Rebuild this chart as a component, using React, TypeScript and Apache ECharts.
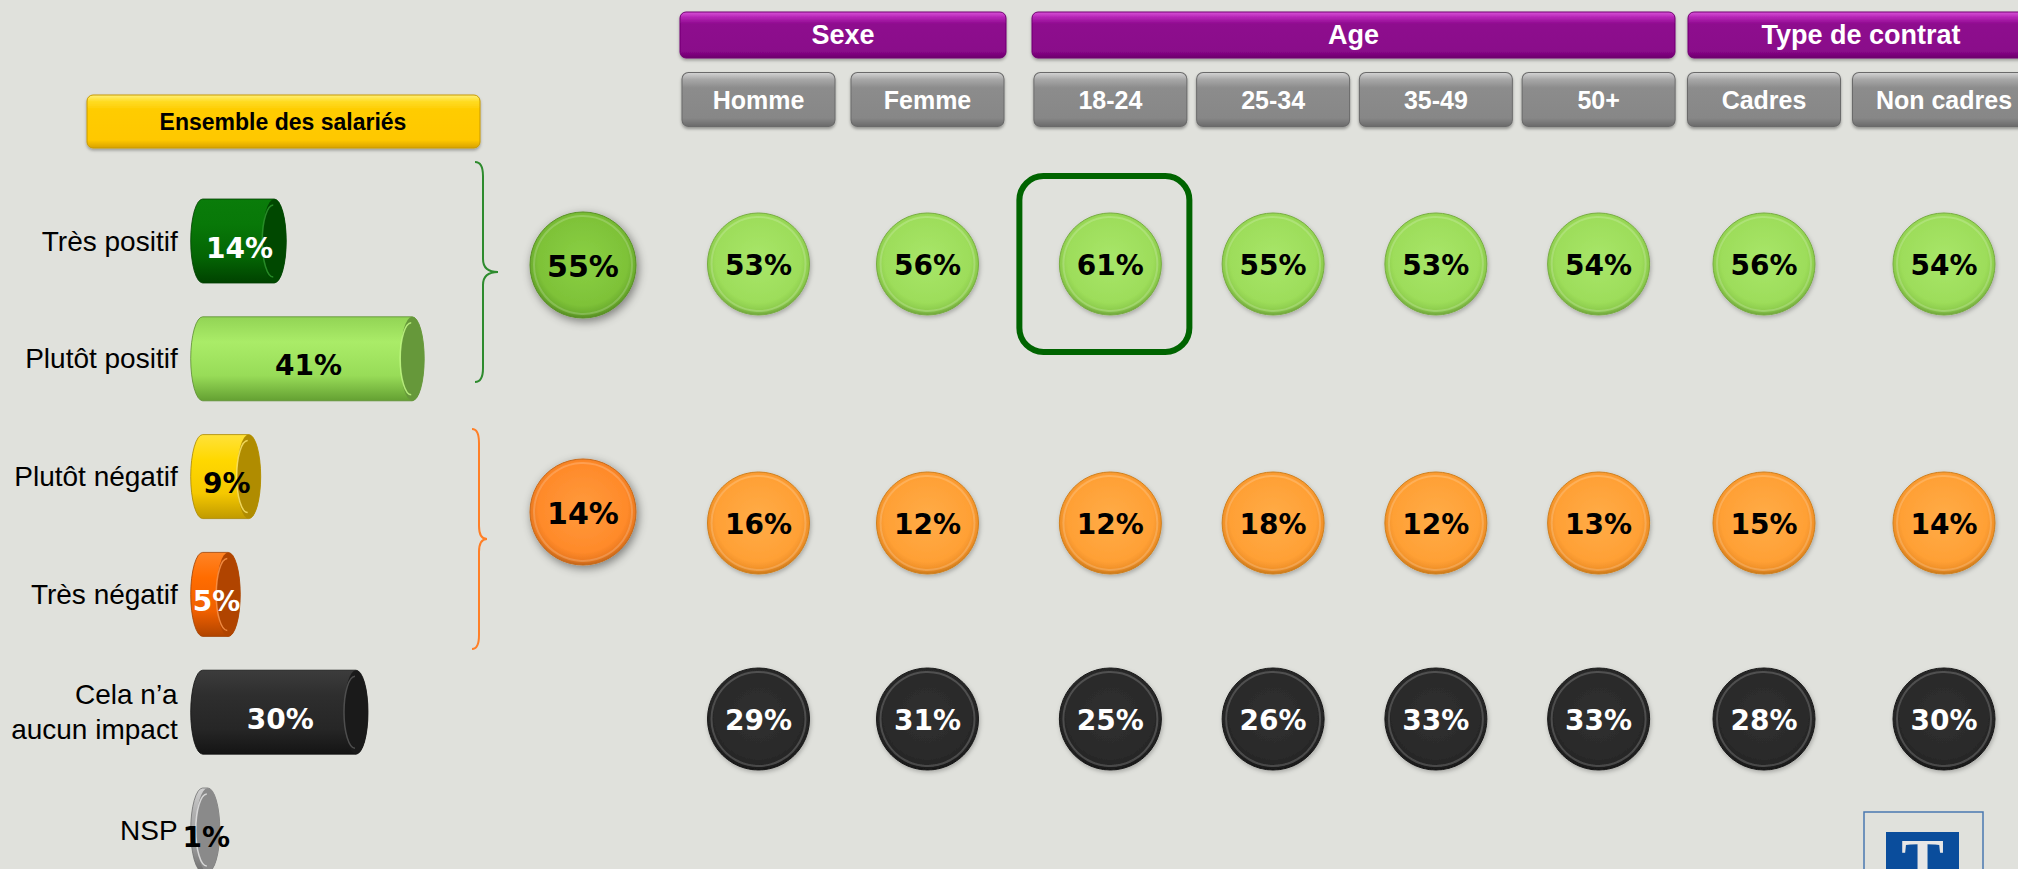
import React, { useEffect, useRef } from 'react';
import * as echarts from 'echarts';

// ---------------- data ----------------
const ENSEMBLE_LABELS = ['Très positif', 'Plutôt positif', 'Plutôt négatif', 'Très négatif', 'Cela n’a\naucun impact', 'NSP'];
const ENSEMBLE_VALUES = [14, 41, 9, 5, 30, 1];

const TOTAL_ROWS = ['Positif', 'Négatif'];
const TOTAL_VALUES = [55, 14];

const GROUPS = ['Sexe', 'Age', 'Type de contrat'];
const SEXE_COLS = ['Homme', 'Femme'];
const AGE_COLS = ['18-24', '25-34', '35-49', '50+'];
const CONTRAT_COLS = ['Cadres', 'Non cadres'];

const ROW_NAMES = ['Positif', 'Négatif', 'Aucun impact'];
const POSITIF = [53, 56, 61, 55, 53, 54, 56, 54];
const NEGATIF = [16, 12, 12, 18, 12, 13, 15, 14];
const AUCUN = [29, 31, 25, 26, 33, 33, 28, 30];
const HIGHLIGHT = { row: 0, col: 2 };

// ---------------- layout / styles ----------------
const FONT_SANS = '"Liberation Sans", Arial, sans-serif';
const FONT_NUM = '"DejaVu Sans", Verdana, sans-serif';
const BG = '#e0e1dc';

const GROUP_GRID = [
  { left: 674, width: 338, head: [680, 1006] },
  { left: 1029, width: 651, head: [1032, 1675] },
  { left: 1674, width: 360, head: [1688, 2034] },
];
const ROW_CY = [264, 523, 719];
const TOTAL_CY = [265, 512];
const ROW_H = 110;

const lin = (stops: [number, string][]) =>
  new echarts.graphic.LinearGradient(0, 0, 0, 1, stops.map(([offset, color]) => ({ offset, color })));
const rad = (stops: [number, string][], x = 0.5, y = 0.5, r = 0.5) =>
  new echarts.graphic.RadialGradient(x, y, r, stops.map(([offset, color]) => ({ offset, color })));

const CYL_STYLES = [
  { body: [[0, '#0a7c0a'], [0.3, '#087808'], [0.7, '#046404'], [1, '#004200']], cap: '#004800', rim: '#2f9a2f', edge: '#004000', text: '#ffffff' },
  { body: [[0, '#92d455'], [0.3, '#aaec68'], [0.7, '#98dc58'], [1, '#64a032']], cap: '#66983a', rim: '#c8ff8a', edge: '#5a8c30', text: '#000000' },
  { body: [[0, '#ffe23a'], [0.3, '#ffd800'], [0.7, '#f5c800'], [1, '#c09a00']], cap: '#b08c00', rim: '#ffe870', edge: '#a88600', text: '#000000' },
  { body: [[0, '#ff8426'], [0.3, '#ff6c00'], [0.7, '#f06000'], [1, '#b04400']], cap: '#b04400', rim: '#ff9a50', edge: '#a04000', text: '#ffffff' },
  { body: [[0, '#3c3c3c'], [0.3, '#2e2e2e'], [0.7, '#262626'], [1, '#141414']], cap: '#1a1a1a', rim: '#5a5a5a', edge: '#101010', text: '#ffffff' },
  { body: [[0, '#d0d0d0'], [0.3, '#b0b0b0'], [0.7, '#9a9a9a'], [1, '#707070']], cap: '#8a8a8a', rim: '#e8e8e8', edge: '#707070', text: '#000000' },
];

const CIRCLE_STYLES = [
  { stops: [[0, '#a8e66a'], [0.78, '#9ddd5a'], [0.92, '#8ccc4c'], [1, '#6ea33a']], edge: '#78ad42', text: '#000000' },
  { stops: [[0, '#ffac48'], [0.78, '#ffa035'], [0.92, '#f09028'], [1, '#c8781a']], edge: '#d0801e', text: '#000000' },
  { stops: [[0, '#303030'], [0.78, '#2a2a2a'], [0.92, '#242424'], [1, '#151515']], edge: '#1a1a1a', text: '#ffffff' },
];
const TOTAL_STYLES = [
  { stops: [[0, '#8ad044'], [0.78, '#7ec238'], [0.92, '#6cae2e'], [1, '#558a22']], edge: '#5a9226', text: '#000000' },
  { stops: [[0, '#ff9a3c'], [0.78, '#ff8a2a'], [0.92, '#ec7a20'], [1, '#c06418']], edge: '#c86a1a', text: '#000000' },
];

const BRACE_G = 'M0 0 C6 0 8 5 8 14 L8 97 C8 105 12 110 23 110 C12 110 8 115 8 123 L8 206 C8 215 6 220 0 220';
const BRACE_O = 'M0 0 C5 0 7 5 7 14 L7 97 C7 105 9 110 15 110 C9 110 7 115 7 123 L7 206 C7 215 5 220 0 220';

function textStyle(text: string, x: number, y: number, font: string, fill: string) {
  return { text, x, y, font, fill, align: 'center', verticalAlign: 'middle', textAlign: 'center', textVerticalAlign: 'middle' };
}

export default function App() {
  const ref = useRef<HTMLDivElement>(null);

  useEffect(() => {
    if (!ref.current) return;
    echarts.graphic.registerShape('braceG', echarts.graphic.extendPath(BRACE_G, {}));
    echarts.graphic.registerShape('braceO', echarts.graphic.extendPath(BRACE_O, {}));
    const chart = echarts.init(ref.current, null, { renderer: 'svg' });

    const grids: any[] = [];
    const xAxes: any[] = [];
    const yAxes: any[] = [];
    const series: any[] = [];

    // ---- left cylinders ----
    grids.push({ left: 202.7, top: 241, width: 511, height: 589, outerBoundsMode: 'none', containLabel: false });
    xAxes.push({ gridIndex: 0, type: 'value', min: 0, max: 100, show: false });
    yAxes.push({
      gridIndex: 0, type: 'category', inverse: true, boundaryGap: false, data: ENSEMBLE_LABELS,
      axisLine: { show: false }, axisTick: { show: false }, splitLine: { show: false },
      axisLabel: { interval: 0, margin: 25, color: '#000', fontFamily: FONT_SANS, fontSize: 28, lineHeight: 35, padding: [8, 0, 0, 0] },
    });
    series.push({
      type: 'custom', xAxisIndex: 0, yAxisIndex: 0, clip: false,
      data: ENSEMBLE_VALUES.map((v, i) => [v, ENSEMBLE_LABELS[i]]),
      encode: { x: 0, y: 1 },
      renderItem: (params: any, api: any) => {
        const i = params.dataIndex;
        const v = api.value(0);
        const a = api.coord([0, api.value(1)]);
        const b = api.coord([v, api.value(1)]);
        const cy = a[1];
        const rx = 12, ry = 42;
        const x0 = a[0], x1 = b[0];
        const top = cy - ry, bot = cy + ry;
        const st = CYL_STYLES[i];
        const body = `M${x0} ${top} L${x1} ${top} A${rx} ${ry} 0 0 1 ${x1} ${bot} L${x0} ${bot} A${rx} ${ry} 0 0 1 ${x0} ${top} Z`;
        const cap = `M${x1} ${top} A${rx} ${ry} 0 0 1 ${x1} ${bot} A${rx} ${ry} 0 0 1 ${x1} ${top} Z`;
        const rim = `M${x1 - 1} ${top + 6} A${rx - 1} ${ry - 6} 0 0 0 ${x1 - 1} ${bot - 6}`;
        return {
          type: 'group',
          children: [
            { type: 'path', shape: { pathData: body }, style: { fill: lin(st.body as any), stroke: st.edge, lineWidth: 0.8 } },
            { type: 'path', shape: { pathData: cap }, style: { fill: st.cap } },
            { type: 'path', shape: { pathData: rim }, style: { fill: 'none', stroke: st.rim, lineWidth: 1.5, opacity: 0.8 } },
            { type: 'text', style: textStyle(v + '%', (x0 + x1) / 2 + 1, cy + 7, `bold 28px ${FONT_NUM}`, st.text) },
          ],
        };
      },
    });

    const circleRender = (st: any, r: number, font: string, rowIdx: number, colOffset: number, bigShadow: boolean) =>
      (params: any, api: any) => {
        const p = api.coord([api.value(0), api.value(1)]);
        const v = api.value(2);
        const children: any[] = [];
        if (rowIdx === HIGHLIGHT.row && colOffset + params.dataIndex === HIGHLIGHT.col) {
          children.push({
            type: 'rect', shape: { x: p[0] - 91, y: p[1] - 88, width: 170, height: 176, r: 24 },
            style: { fill: 'none', stroke: '#006400', lineWidth: 6 },
          });
        }
        children.push({
          type: 'circle', shape: { cx: p[0], cy: p[1], r },
          style: {
            fill: rad(st.stops, 0.5, 0.46, 0.54), stroke: st.edge, lineWidth: 1,
            shadowBlur: bigShadow ? 10 : 4, shadowColor: bigShadow ? 'rgba(0,0,0,0.45)' : 'rgba(0,0,0,0.25)',
            shadowOffsetX: bigShadow ? 2 : 1, shadowOffsetY: bigShadow ? 3 : 2,
          },
        });
        children.push({
          type: 'circle', shape: { cx: p[0], cy: p[1], r: r - 4 },
          style: { fill: 'none', stroke: 'rgba(255,255,255,0.18)', lineWidth: 2 },
        });
        children.push({ type: 'text', style: textStyle(v + '%', p[0], p[1] + 1, font, st.text) });
        return { type: 'group', children };
      };

    // ---- total column ----
    TOTAL_ROWS.forEach((row, r) => {
      const gi = grids.length;
      grids.push({ left: 498, width: 170, top: TOTAL_CY[r] - ROW_H / 2, height: ROW_H, outerBoundsMode: 'none', containLabel: false });
      xAxes.push({ gridIndex: gi, type: 'category', data: ['Ensemble'], show: false });
      yAxes.push({ gridIndex: gi, type: 'category', data: [row], show: false });
      series.push({
        type: 'custom', xAxisIndex: gi, yAxisIndex: gi, clip: false,
        data: [['Ensemble', row, TOTAL_VALUES[r]]],
        renderItem: circleRender(TOTAL_STYLES[r], 53, `bold 30px ${FONT_NUM}`, -1, 0, true),
      });
    });

    // ---- segment grids ----
    const GROUP_COLS = [SEXE_COLS, AGE_COLS, CONTRAT_COLS];
    const ROW_VALUES = [POSITIF, NEGATIF, AUCUN];
    const grayGrad = lin([[0, '#d2d2d2'], [0.12, '#a8a8a8'], [0.28, '#8c8c8c'], [0.85, '#878787'], [1, '#6c6c6c']]);
    ROW_NAMES.forEach((row, r) => {
      let offset = 0;
      GROUP_COLS.forEach((cols, g) => {
        const gi = grids.length;
        const L = GROUP_GRID[g];
        grids.push({ left: L.left, width: L.width, top: ROW_CY[r] - ROW_H / 2, height: ROW_H, outerBoundsMode: 'none', containLabel: false });
        if (r === 0) {
          const lastGroup = g === GROUP_COLS.length - 1;
          xAxes.push({
            gridIndex: gi, type: 'category', position: 'top',
            data: cols.map((c, i) => (lastGroup && i === cols.length - 1 ? { value: c, textStyle: { width: 182 } } : c)),
            axisLine: { show: false }, axisTick: { show: false }, splitLine: { show: false },
            axisLabel: {
              show: true, interval: 0, margin: 83, color: '#ffffff', fontFamily: FONT_SANS, fontWeight: 'bold', fontSize: 25,
              backgroundColor: grayGrad, borderRadius: 6, width: 152, height: 53, lineHeight: 53, align: 'center',
              borderColor: '#6a6a6a', borderWidth: 1, shadowColor: 'rgba(0,0,0,0.35)', shadowBlur: 3, shadowOffsetY: 2,
            },
          });
        } else {
          xAxes.push({ gridIndex: gi, type: 'category', data: cols, show: false });
        }
        yAxes.push({ gridIndex: gi, type: 'category', data: [row], show: false });
        const vals = ROW_VALUES[r].slice(offset, offset + cols.length);
        series.push({
          type: 'custom', xAxisIndex: gi, yAxisIndex: gi, clip: false,
          data: cols.map((c, i) => [c, row, vals[i]]),
          renderItem: circleRender(CIRCLE_STYLES[r], 51, `bold 28px ${FONT_NUM}`, r, offset, false),
        });
        offset += cols.length;
      });
    });

    // ---- decorations ----
    const purpleGrad = lin([[0, '#d850d8'], [0.12, '#b424b4'], [0.26, '#8e0a8e'], [0.85, '#8a088a'], [1, '#6c006c']]);
    const yellowGrad = lin([[0, '#fff07a'], [0.12, '#ffdc24'], [0.28, '#ffcc00'], [0.85, '#ffc800'], [1, '#d8a200']]);
    const graphic: any[] = [];
    GROUPS.forEach((name, g) => {
      const [a, b] = GROUP_GRID[g].head;
      graphic.push({
        type: 'rect', shape: { x: a, y: 12, width: b - a, height: 46, r: 6 },
        style: { fill: purpleGrad, stroke: '#700070', lineWidth: 1, shadowBlur: 3, shadowColor: 'rgba(0,0,0,0.3)', shadowOffsetY: 2 },
      });
      graphic.push({ type: 'text', style: textStyle(name, (a + b) / 2, 35, `bold 27px ${FONT_SANS}`, '#ffffff') });
    });
    graphic.push({
      type: 'rect', shape: { x: 87, y: 95, width: 393, height: 53, r: 6 },
      style: { fill: yellowGrad, stroke: '#c89a00', lineWidth: 1, shadowBlur: 3, shadowColor: 'rgba(0,0,0,0.3)', shadowOffsetY: 2 },
    });
    graphic.push({ type: 'text', style: textStyle('Ensemble des salariés', 283, 122, `bold 23px ${FONT_SANS}`, '#000000') });
    graphic.push({ type: 'braceG', x: 475, y: 162, style: { fill: 'none', stroke: '#2e8b2e', lineWidth: 2 } });
    graphic.push({ type: 'braceO', x: 472, y: 429, style: { fill: 'none', stroke: '#ff7f27', lineWidth: 2 } });
    // logo
    graphic.push({ type: 'rect', shape: { x: 1864, y: 812, width: 119, height: 90 }, style: { fill: 'none', stroke: '#4a78b0', lineWidth: 1.5 } });
    graphic.push({ type: 'rect', shape: { x: 1886, y: 832, width: 73, height: 60 }, style: { fill: '#0a4d9c' } });
    graphic.push({
      type: 'text',
      style: { text: 'T', x: 1922.5, y: 829, font: `bold 64px "Liberation Serif", "DejaVu Serif", serif`, fill: '#e6e6e6', align: 'center', verticalAlign: 'top', textAlign: 'center', textVerticalAlign: 'top' },
    });

    chart.setOption({
      animation: false,
      backgroundColor: BG,
      grid: grids,
      xAxis: xAxes,
      yAxis: yAxes,
      series,
      graphic,
    });
    return () => chart.dispose();
  }, []);

  return <div ref={ref} style={{ position: 'absolute', left: 0, top: 0, width: 2018, height: 869 }} />;
}
